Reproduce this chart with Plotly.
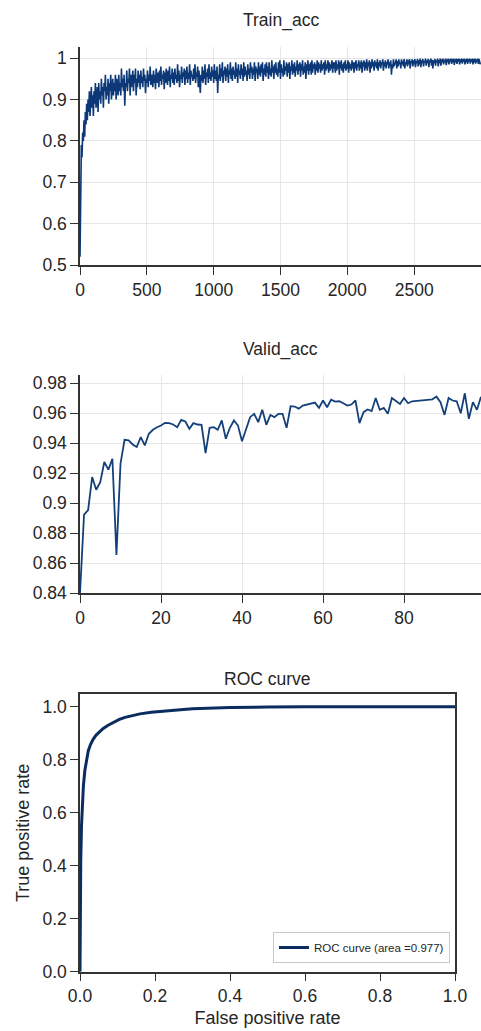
import numpy as np
import plotly.graph_objects as go

# ---------------- data ----------------
train_step = 5  # iterations between recorded points
train_acc = [
    0.52, 0.70, 0.79, 0.76, 0.82, 0.80, 0.85, 0.81, 0.87, 0.84,
    0.89, 0.85, 0.90, 0.87, 0.92, 0.86, 0.89, 0.93, 0.88, 0.91,
    0.86, 0.92, 0.89, 0.94, 0.88, 0.91, 0.93, 0.87, 0.94, 0.90,
    0.92, 0.89, 0.95, 0.91, 0.93, 0.88, 0.94, 0.92, 0.96, 0.90,
    0.93, 0.91, 0.95, 0.89, 0.94, 0.92, 0.96, 0.90, 0.93, 0.95,
    0.91, 0.94, 0.92, 0.96, 0.90, 0.95, 0.93, 0.91, 0.96, 0.92,
    0.94, 0.91, 0.975, 0.93, 0.95, 0.92, 0.96, 0.885, 0.94, 0.93,
    0.97, 0.92, 0.95, 0.94, 0.975, 0.91, 0.96, 0.93, 0.95, 0.97,
    0.92, 0.96, 0.94, 0.975, 0.91, 0.95, 0.93, 0.97, 0.94, 0.96,
    0.925, 0.97, 0.94, 0.955, 0.93, 0.975, 0.945, 0.96, 0.915, 0.95,
    0.94, 0.97, 0.93, 0.96, 0.945, 0.98, 0.935, 0.955, 0.96, 0.93,
    0.97, 0.94, 0.96, 0.925, 0.975, 0.95, 0.94, 0.965, 0.93, 0.97,
    0.945, 0.98, 0.935, 0.96, 0.95, 0.97, 0.925, 0.965, 0.94, 0.975,
    0.95, 0.935, 0.97, 0.945, 0.98, 0.93, 0.96, 0.95, 0.975, 0.94,
    0.965, 0.935, 0.975, 0.95, 0.96, 0.94, 0.985, 0.945, 0.97, 0.93,
    0.96, 0.95, 0.98, 0.94, 0.965, 0.955, 0.975, 0.935, 0.97, 0.95,
    0.98, 0.94, 0.965, 0.95, 0.985, 0.935, 0.97, 0.955, 0.96, 0.945,
    0.975, 0.95, 0.985, 0.94, 0.965, 0.955, 0.98, 0.93, 0.97, 0.95,
    0.916, 0.96, 0.945, 0.98, 0.94, 0.97, 0.95, 0.985, 0.935, 0.965,
    0.955, 0.975, 0.94, 0.985, 0.95, 0.965, 0.945, 0.98, 0.955, 0.97,
    0.94, 0.985, 0.95, 0.97, 0.945, 0.98, 0.916, 0.96, 0.95, 0.985,
    0.945, 0.975, 0.955, 0.99, 0.94, 0.97, 0.96, 0.98, 0.945, 0.975,
    0.955, 0.985, 0.94, 0.97, 0.96, 0.99, 0.95, 0.975, 0.945, 0.98,
    0.96, 0.97, 0.95, 0.99, 0.955, 0.975, 0.94, 0.985, 0.96, 0.97,
    0.95, 0.985, 0.96, 0.975, 0.945, 0.99, 0.955, 0.98, 0.96, 0.97,
    0.945, 0.985, 0.96, 0.975, 0.95, 0.99, 0.965, 0.98, 0.95, 0.975,
    0.96, 0.99, 0.945, 0.98, 0.965, 0.975, 0.95, 0.99, 0.96, 0.98,
    0.955, 0.985, 0.965, 0.99, 0.945, 0.975, 0.96, 0.985, 0.955, 0.99,
    0.965, 0.98, 0.95, 0.99, 0.96, 0.975, 0.955, 0.995, 0.965, 0.98,
    0.95, 0.985, 0.965, 0.99, 0.96, 0.975, 0.955, 0.99, 0.965, 0.995,
    0.95, 0.985, 0.965, 0.975, 0.955, 0.995, 0.96, 0.98, 0.97, 0.99,
    0.955, 0.985, 0.965, 0.99, 0.95, 0.98, 0.97, 0.995, 0.96, 0.985,
    0.965, 0.99, 0.955, 0.98, 0.97, 0.995, 0.96, 0.985, 0.97, 0.99,
    0.955, 0.985, 0.97, 0.995, 0.96, 0.98, 0.965, 0.99, 0.95, 0.985,
    0.97, 0.995, 0.96, 0.985, 0.97, 0.99, 0.96, 0.995, 0.965, 0.985,
    0.975, 0.99, 0.96, 0.985, 0.97, 0.995, 0.965, 0.99, 0.975, 0.985,
    0.965, 0.995, 0.97, 0.985, 0.975, 0.99, 0.96, 0.995, 0.97, 0.985,
    0.975, 0.995, 0.965, 0.99, 0.97, 0.985, 0.975, 0.995, 0.965, 0.99,
    0.975, 0.99, 0.965, 0.995, 0.97, 0.985, 0.975, 0.995, 0.96, 0.99,
    0.975, 0.995, 0.97, 0.985, 0.965, 0.99, 0.975, 0.995, 0.97, 0.985,
    0.975, 0.995, 0.965, 0.99, 0.975, 0.985, 0.97, 0.995, 0.975, 0.99,
    0.965, 0.99, 0.975, 0.995, 0.97, 0.985, 0.98, 0.995, 0.97, 0.99,
    0.975, 0.995, 0.965, 0.99, 0.98, 0.995, 0.97, 0.99, 0.975, 0.997,
    0.97, 0.99, 0.98, 0.995, 0.965, 0.99, 0.975, 0.997, 0.98, 0.99,
    0.97, 0.995, 0.98, 0.99, 0.975, 0.997, 0.97, 0.99, 0.98, 0.995,
    0.975, 0.99, 0.985, 0.997, 0.97, 0.99, 0.98, 0.995, 0.975, 0.99,
    0.985, 0.997, 0.975, 0.99, 0.98, 0.995, 0.96, 0.985, 0.975, 0.997,
    0.98, 0.99, 0.985, 0.997, 0.975, 0.993, 0.98, 0.997, 0.985, 0.99,
    0.975, 0.997, 0.985, 0.993, 0.98, 0.998, 0.975, 0.99, 0.985, 0.997,
    0.98, 0.995, 0.985, 0.998, 0.975, 0.993, 0.988, 0.997, 0.98, 0.995,
    0.985, 0.998, 0.978, 0.993, 0.988, 0.998, 0.98, 0.995, 0.985, 0.999,
    0.978, 0.995, 0.988, 0.998, 0.98, 0.993, 0.99, 0.999, 0.982, 0.995,
    0.988, 0.998, 0.978, 0.995, 0.99, 0.999, 0.982, 0.996, 0.975, 0.995,
    0.988, 0.998, 0.982, 0.995, 0.99, 0.999, 0.98, 0.996, 0.988, 0.999,
    0.982, 0.997, 0.99, 0.999, 0.985, 0.996, 0.99, 0.999, 0.983, 0.997,
    0.99, 0.999, 0.985, 0.997, 0.992, 0.999, 0.986, 0.998, 0.99, 0.999,
    0.984, 0.997, 0.99, 0.999, 0.986, 0.998, 0.992, 0.999, 0.985, 0.997,
    0.99, 0.999, 0.987, 0.998, 0.992, 0.999, 0.985, 0.997, 0.99, 0.999,
    0.986, 0.998, 0.992, 0.999, 0.987, 0.997, 0.991, 0.999, 0.985, 0.998,
    0.99, 0.999, 0.987, 0.997, 0.992, 0.999, 0.986, 0.998, 0.99, 0.985,
]
train_iter = np.arange(len(train_acc)) * train_step
train_xticks = [0, 500, 1000, 1500, 2000, 2500]

valid_acc = [
    0.84, 0.8925, 0.8954, 0.9175, 0.909, 0.914, 0.9275, 0.9224, 0.9297, 0.8655,
    0.9264, 0.9423, 0.9419, 0.9392, 0.9375, 0.9441, 0.9386, 0.9463, 0.949, 0.9507,
    0.9518, 0.9536, 0.9534, 0.9525, 0.9507, 0.9556, 0.9545, 0.9496, 0.9534, 0.9525,
    0.9523, 0.9335, 0.9503, 0.9507, 0.949, 0.9552, 0.943, 0.9503, 0.9552, 0.9518,
    0.9414, 0.9496, 0.9574, 0.9596, 0.9541, 0.9623, 0.9523, 0.9589, 0.9574, 0.9596,
    0.9596, 0.9503, 0.9647, 0.9645, 0.9631, 0.9651, 0.9658, 0.9667, 0.9671, 0.9636,
    0.9685, 0.964, 0.9691, 0.9678, 0.968, 0.9667, 0.9651, 0.9658, 0.9685, 0.9534,
    0.9607, 0.9625, 0.9614, 0.9702, 0.9623, 0.9636, 0.9596, 0.9702, 0.968, 0.9662,
    0.9702, 0.9667, 0.968, 0.9682, 0.9686, 0.9687, 0.9688, 0.9693, 0.9711, 0.9674,
    0.9589, 0.9702, 0.9685, 0.968, 0.96, 0.9733, 0.9563, 0.9674, 0.9623, 0.971,
]
valid_epoch = np.arange(len(valid_acc))

roc_fpr = [0.0, 0.0, 0.001, 0.002, 0.004, 0.006, 0.009, 0.013, 0.017, 0.022,
           0.028, 0.035, 0.043, 0.052, 0.062, 0.075, 0.09, 0.105, 0.12, 0.14,
           0.16, 0.19, 0.22, 0.26, 0.3, 0.35, 0.4, 0.5, 0.6, 1.0]
roc_tpr = [0.0, 0.2, 0.3, 0.42, 0.55, 0.63, 0.7, 0.76, 0.8, 0.833,
           0.857, 0.877, 0.893, 0.906, 0.918, 0.93, 0.942, 0.952, 0.96, 0.967,
           0.973, 0.979, 0.984, 0.988, 0.992, 0.995, 0.997, 0.999, 1.0, 1.0]
roc_auc = 0.977

# ---------------- figure ----------------
W, H = 481, 1031
ML = 80
FONT = "Liberation Sans, Arial, Helvetica, sans-serif"
TXT = "#262626"
AX = "#333333"
GRID = "#e6e6e6"

def py(px):  # pixel from top -> paper fraction
    return 1 - px / H

def pxx(px):  # pixel from left -> paper fraction
    return (px - ML) / (W - ML)

fig = go.Figure()
fig.add_trace(go.Scatter(x=train_iter, y=train_acc, mode="lines",
                         line=dict(color="#0c3877", width=1.6),
                         xaxis="x", yaxis="y", showlegend=False))
fig.add_trace(go.Scatter(x=valid_epoch, y=valid_acc, mode="lines",
                         line=dict(color="#14407a", width=1.8),
                         xaxis="x2", yaxis="y2", showlegend=False))
fig.add_trace(go.Scatter(x=roc_fpr, y=roc_tpr, mode="lines",
                         line=dict(color="#0b2c5e", width=3),
                         name=f"ROC curve (area ={roc_auc})",
                         xaxis="x3", yaxis="y3", showlegend=True))

tick_common = dict(ticks="outside", ticklen=8, tickwidth=1.3, tickcolor=AX,
                   tickfont=dict(family=FONT, size=17.5, color=TXT),
                   showline=True, linecolor=AX, linewidth=1.5,
                   zeroline=False, automargin=False)

fig.update_layout(
    width=W, height=H,
    margin=dict(l=ML, r=0, t=0, b=0),
    paper_bgcolor="white", plot_bgcolor="white",
    font=dict(family=FONT, color=TXT),
    xaxis=dict(domain=[0, 1], anchor="y", range=[0, 3000], tickvals=train_xticks,
               showgrid=True, gridcolor=GRID, gridwidth=1, **tick_common),
    yaxis=dict(domain=[py(265), py(47)], anchor="x", range=[0.5, 1.027], dtick=0.1,
               tick0=0.5, showgrid=True, gridcolor=GRID, gridwidth=1, **tick_common),
    xaxis2=dict(domain=[0, 1], anchor="y2", range=[0, 99], dtick=20, tick0=0,
                showgrid=True, gridcolor=GRID, gridwidth=1, **tick_common),
    yaxis2=dict(domain=[py(593.3), py(375)], anchor="x2", range=[0.84, 0.9855], dtick=0.02,
                tick0=0.84, showgrid=True, gridcolor=GRID, gridwidth=1, **tick_common),
    xaxis3=dict(domain=[0, pxx(455)], anchor="y3", range=[0, 1], dtick=0.2,
                tick0=0, tickformat=".1f", showgrid=False, mirror=True,
                title=dict(text="False positive rate", standoff=6,
                           font=dict(family=FONT, size=18, color=TXT)),
                **tick_common),
    yaxis3=dict(domain=[py(971.7), py(694)], anchor="x3", range=[0, 1.048], dtick=0.2,
                tick0=0, tickformat=".1f", showgrid=False, mirror=True,
                title=dict(text="True positive rate", standoff=8,
                           font=dict(family=FONT, size=18, color=TXT)),
                **tick_common),
    legend=dict(x=pxx(450), xanchor="right",
                y=py(963), yanchor="bottom",
                bgcolor="rgba(255,255,255,0.9)", bordercolor="#c8c8c8", borderwidth=1,
                font=dict(family=FONT, size=11.5, color=TXT), itemwidth=30),
    annotations=[
        dict(text="Train_acc", x=0.5, y=py(21), xref="paper", yref="paper",
             xanchor="center", yanchor="middle", showarrow=False,
             font=dict(family=FONT, size=17.5, color=TXT)),
        dict(text="Valid_acc", x=0.5, y=py(349), xref="paper", yref="paper",
             xanchor="center", yanchor="middle", showarrow=False,
             font=dict(family=FONT, size=17.5, color=TXT)),
        dict(text="ROC curve", x=pxx(267.5), y=py(679), xref="paper", yref="paper",
             xanchor="center", yanchor="middle", showarrow=False,
             font=dict(family=FONT, size=17.5, color=TXT)),
    ],
)

fig.write_html("out.html",
               config={"displayModeBar": False},
               post_script="document.body.style.margin='0';"
                           "document.body.style.overflow='hidden';")
